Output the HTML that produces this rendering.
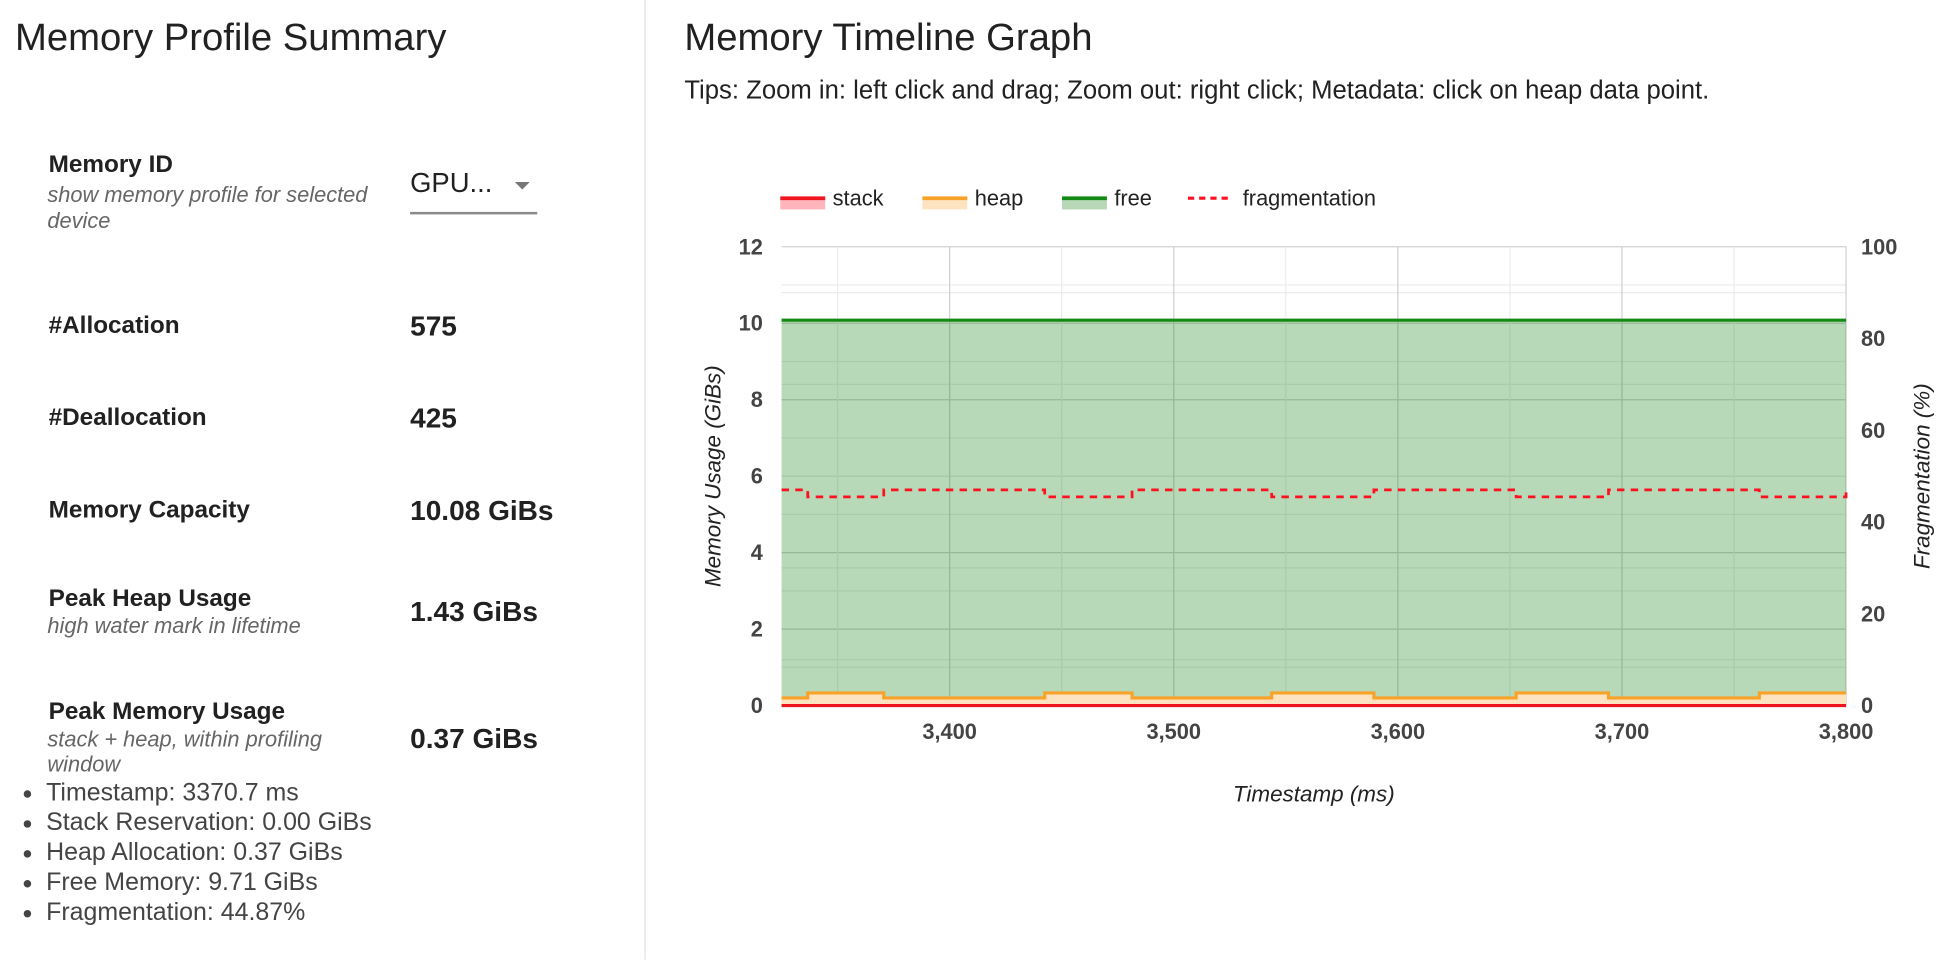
<!DOCTYPE html>
<html><head><meta charset="utf-8"><style>
html,body{margin:0;padding:0;background:#fff;overflow:hidden;width:1954px;height:958px}
#root{position:absolute;left:0;top:0;width:1570px;height:770px;transform:scale(1.2465);transform-origin:0 0;font-family:"Liberation Sans",sans-serif;color:#212121}
.a{position:absolute;white-space:nowrap}
.lbl{font-size:19.5px;font-weight:bold;color:#212121}
.val{font-size:22.5px;font-weight:bold;color:#212121}
.sub{font-size:17.5px;font-style:italic;color:#666}
.bul{font-size:20px;color:#444}
</style></head><body>
<div id="root">
<div class="a" style="left:12px;top:12px;font-size:30.7px">Memory Profile Summary</div>
<div class="a" style="left:517px;top:0;width:1px;height:770px;background:#e0e0e0"></div>

<div class="a lbl" style="left:39px;top:121px">Memory ID</div>
<div class="a sub" style="left:38px;top:146px;line-height:21px;white-space:normal;width:285px">show memory profile for selected device</div>
<div class="a" style="left:329px;top:134px;width:102px;height:36px;border-bottom:2px solid #8a8a8a">
  <span style="font-size:22px;color:#212121">GPU...</span>
  <span style="position:absolute;left:84px;top:12px;width:0;height:0;border-left:6px solid transparent;border-right:6px solid transparent;border-top:6px solid #777"></span>
</div>

<div class="a lbl" style="left:39px;top:250px">#Allocation</div>
<div class="a val" style="left:329px;top:249px">575</div>
<div class="a lbl" style="left:39px;top:324px">#Deallocation</div>
<div class="a val" style="left:329px;top:323px">425</div>
<div class="a lbl" style="left:39px;top:398px">Memory Capacity</div>
<div class="a val" style="left:329px;top:397px">10.08 GiBs</div>
<div class="a lbl" style="left:39px;top:469px">Peak Heap Usage</div>
<div class="a sub" style="left:38px;top:492px">high water mark in lifetime</div>
<div class="a val" style="left:329px;top:478px">1.43 GiBs</div>
<div class="a lbl" style="left:39px;top:560px">Peak Memory Usage</div>
<div class="a sub" style="left:38px;top:583px;line-height:20px;white-space:normal;width:260px">stack + heap, within profiling window</div>
<div class="a val" style="left:329px;top:580px">0.37 GiBs</div>

<ul class="a bul" style="left:0;top:624px;margin:0;padding-left:37px;line-height:24px">
<li>Timestamp: 3370.7 ms</li>
<li>Stack Reservation: 0.00 GiBs</li>
<li>Heap Allocation: 0.37 GiBs</li>
<li>Free Memory: 9.71 GiBs</li>
<li>Fragmentation: 44.87%</li>
</ul>

<div class="a" style="left:549px;top:12px;font-size:30.7px">Memory Timeline Graph</div>
<div class="a" style="left:549px;top:61px;font-size:20.6px">Tips: Zoom in: left click and drag; Zoom out: right click; Metadata: click on heap data point.</div>

<svg class="a" id="chart" style="left:0;top:0" width="1570" height="770" font-family="Liberation Sans, sans-serif"></svg>
</div>
<script>
const times = [3325, 3336.7, 3370.6, 3442.4, 3481.4, 3543.7, 3589.3, 3652.8, 3694, 3761.3, 3800];
const heapVals = [0.2, 0.33, 0.2, 0.33, 0.2, 0.33, 0.2, 0.33, 0.2, 0.33, 0.33];
const fragVals = [47, 45.5, 47, 45.5, 47, 45.5, 47, 45.5, 47, 45.5, 47];
const stackVals = [0,0,0,0,0,0,0,0,0,0,0];
const freeTop = [10.08,10.08,10.08,10.08,10.08,10.08,10.08,10.08,10.08,10.08,10.08];
const xTicks = [3400, 3500, 3600, 3700, 3800];
const xTickLabels = ["3,400","3,500","3,600","3,700","3,800"];
const yTicks = [0,2,4,6,8,10,12];
const y2Ticks = [0,20,40,60,80,100];

const L=627,R=1481,T=198,B=566,X0=3325,X1=3800;
const sx=v=>L+(v-X0)/(X1-X0)*(R-L);
const sy=v=>B-v/12*(B-T);
const sy2=v=>B-v/100*(B-T);
const svg=document.getElementById('chart');
const NS='http://www.w3.org/2000/svg';
function mk(tag,attrs,parent){const e=document.createElementNS(NS,tag);for(const k in attrs)e.setAttribute(k,attrs[k]);(parent||svg).appendChild(e);return e;}
function stepPts(vals,fy){let p=[];for(let i=0;i<times.length;i++){const x=sx(times[i]);if(i>0)p.push([x,fy(vals[i-1])]);p.push([x,fy(vals[i])]);}return p;}
const toD=p=>p.map((q,i)=>(i?'L':'M')+q[0].toFixed(1)+','+q[1].toFixed(1)).join('');

for(let v=0;v<=12;v+=1){const g=mk('line',{x1:L,x2:R,y1:sy(v),y2:sy(v),stroke:v%2?'#ececec':'#d0d0d0','stroke-width':1});}
for(let v=10;v<100;v+=20){const g=mk('line',{x1:L,x2:R,y1:sy2(v),y2:sy2(v),stroke:'#ececec','stroke-width':1});}
for(let v=3350;v<=3800;v+=50){const g=mk('line',{x1:sx(v),x2:sx(v),y1:T,y2:B,stroke:v%100?'#ececec':'#d0d0d0','stroke-width':1});}

const fp=stepPts(freeTop,sy);
const freeArea=mk('path',{d:toD(fp)+`L${R},${B}L${L},${B}Z`,fill:'rgba(16,130,16,0.3)'});

const freeLine=mk('path',{d:toD(fp),fill:'none',stroke:'#138a13','stroke-width':2.5});

const hp=stepPts(heapVals,sy);
const heapArea=mk('path',{d:toD(hp)+`L${R},${B}L${L},${B}Z`,fill:'#fde3c0'});

const heapLine=mk('path',{d:toD(hp),fill:'none',stroke:'#f9a229','stroke-width':2.5});

const stp=stepPts(stackVals,sy);
const stackLine=mk('path',{d:toD(stp),fill:'none',stroke:'#f0141e','stroke-width':2.5});

const frp=stepPts(fragVals,sy2);
const fragLine=mk('path',{d:toD(frp),fill:'none',stroke:'#ff1020','stroke-width':2.2,'stroke-dasharray':'6,5'});


yTicks.forEach(v=>{const t=mk('text',{x:612,y:sy(v)+6,'text-anchor':'end','font-size':17.5,'font-weight':'bold',fill:'#444'});t.textContent=v;});
y2Ticks.forEach(v=>{const t=mk('text',{x:1493,y:sy2(v)+6,'font-size':17.5,'font-weight':'bold',fill:'#444'});t.textContent=v;});
xTicks.forEach((v,i)=>{const t=mk('text',{x:sx(v),y:593,'text-anchor':'middle','font-size':17.5,'font-weight':'bold',fill:'#444'});t.textContent=xTickLabels[i];});
let t=mk('text',{x:1054,y:643,'text-anchor':'middle','font-size':18,'font-style':'italic',fill:'#222'});t.textContent='Timestamp (ms)';
t=mk('text',{x:0,y:0,transform:'translate(578,382) rotate(-90)','text-anchor':'middle','font-size':18,'font-style':'italic',fill:'#222'});t.textContent='Memory Usage (GiBs)';
t=mk('text',{x:0,y:0,transform:'translate(1548,382) rotate(-90)','text-anchor':'middle','font-size':18,'font-style':'italic',fill:'#222'});t.textContent='Fragmentation (%)';

const legend=[['stack','#f0141e','#ffb3ba',626,668],['heap','#f9a229','#fde3c0',740,782],['free','#138a13','#b7d7b7',852,894],['fragmentation','#ff1020',null,953,997]];
legend.forEach(l=>{const g=mk('g',{});
 if(l[2]){mk('rect',{x:l[3],y:159,width:36,height:9,fill:l[2]},g);mk('line',{x1:l[3],x2:l[3]+36,y1:159,y2:159,stroke:l[1],'stroke-width':3},g);}
 else mk('line',{x1:l[3],x2:l[3]+36,y1:159,y2:159,stroke:l[1],'stroke-width':2.5,'stroke-dasharray':'5,4'},g);
 const tx=mk('text',{x:l[4],y:165,'font-size':17.5,fill:'#222'},g);tx.textContent=l[0];});
</script>
</body></html>
